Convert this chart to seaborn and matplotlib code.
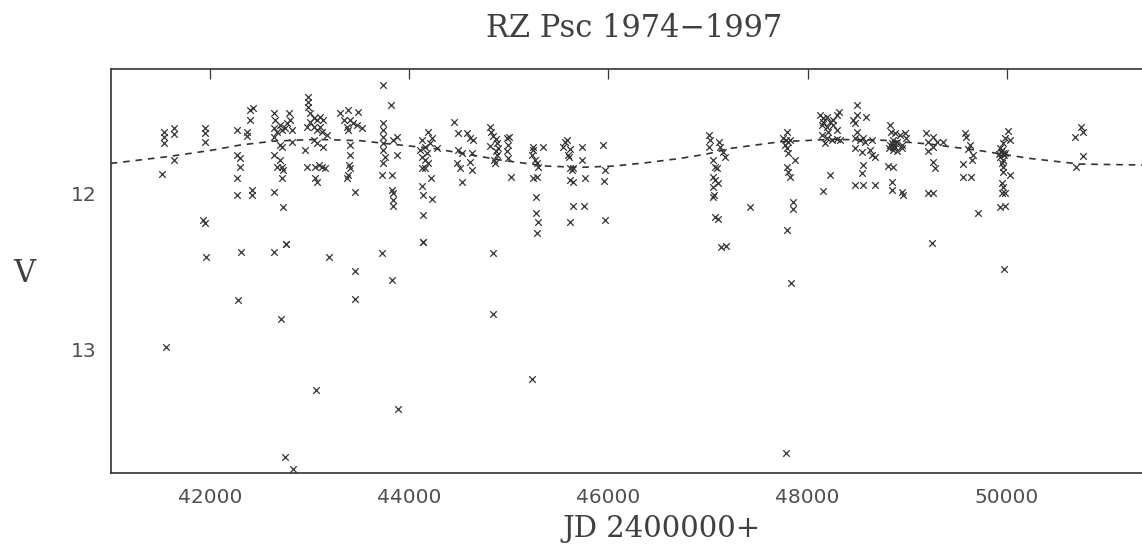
import matplotlib
matplotlib.use("Agg")
import matplotlib.pyplot as plt
import seaborn as sns
import pandas as pd

jd = [
    41531, 41531, 41531, 41639, 41639, 41515, 41639,
    41943, 41943, 41943, 41926, 41950,
    42268, 42368, 42368, 42402, 42428, 42402, 42268, 42301, 42301, 42268, 42268, 42418, 42418,
    42636, 42653, 42636, 42669, 42636, 42703, 42720, 42753, 42787, 42803, 42820, 42770,
    42720, 42703, 42636, 42669, 42703, 42720, 42736, 42720, 42636, 42736, 42763, 42820,
    42987, 42987, 42987, 43004, 43038, 43071, 43104, 43138, 42971, 43038, 43104, 43171,
    43038, 43071, 42954, 43138, 42971, 43054, 43088, 43121, 43155, 43054, 43071,
    43004, 43071, 43121,
    43305, 43389, 43489, 43339, 43406, 43439, 43372, 43473, 43523, 43389,
    43406, 43406, 43399, 43406, 43389, 43372, 43456,
    43740, 43817, 43740, 43740, 43740, 43740, 43740, 43757, 43740, 43724, 43824,
    43841, 43874, 43874, 43824, 43841, 43834, 43834,
    44192, 44125, 44159, 44209, 44276, 44125, 44159, 44192, 44125, 44159, 44216,
    44132, 44135, 44226, 44135, 44135, 44108, 44176, 44226,
    44453, 44487, 44577, 44611, 44644, 44493, 44527, 44627, 44477, 44510, 44611, 44627, 44527,
    44811, 44818, 44845, 44872, 44878, 44811, 44895, 44872, 44878, 44852, 44862,
    44979, 45006, 44995, 44985, 44995, 45019,
    45240, 45247, 45230, 45263, 45280, 45297, 45347, 45247, 45280, 45273, 45273, 45297, 45280,
    45564, 45588, 45548, 45615, 45598, 45608, 45732, 45732, 45615, 45648, 45631, 45615,
    45648, 45765, 45641, 45759, 45615,
    45949, 45966, 45956, 45969,
    47014, 47020, 47014, 47114, 47121, 47154, 47171, 47054, 47071, 47087, 47054, 47071,
    47104, 47054, 47061, 47054, 47071, 47104, 47128, 47181, 47422,
    47790, 47757, 47783, 47807, 47824, 47773, 47790, 47807, 47874, 47797, 47807, 47824,
    47857, 47857, 47790,
    48125, 48158, 48192, 48225, 48259, 48292, 48319, 48141, 48192, 48259, 48292, 48141,
    48192, 48242, 48292, 48326, 48175, 48225, 48158, 48208, 48158,
    48493, 48493, 48459, 48476, 48587, 48493, 48476, 48526, 48560, 48644, 48577, 48476,
    48543, 48627, 48644, 48677, 48553, 48543, 48476, 48553, 48677,
    48828, 48834, 48878, 48928, 48978, 48988, 48861, 48895, 48828, 48878, 48821, 48861,
    48945, 48945, 48895, 48811, 48861, 48844, 48844, 48945, 48962, 48844, 48878, 48854,
    49246,
    49189, 49263, 49212, 49296, 49363, 49263, 49212, 49263, 49280, 49212, 49263,
    49581, 49597, 49631, 49614, 49660, 49650, 49557, 49557, 49638, 49715,
    50016, 49982, 50033, 49966, 49932, 49949, 49959, 49982, 49932, 49966, 49949, 49959,
    49966, 50039, 49949, 49966, 49949, 49982, 49932, 49982, 49939, 49972, 49926,
    50752, 50769, 50685, 50769, 50702,
    42763, 44135,
    41962, 42305, 42645, 43191, 43725, 44840, 43458, 43828, 42275, 43458, 44844, 42714,
    41557, 43061, 45233, 43889, 42752, 42828,
    47834, 49971, 47779,
]
mag = [
    11.605, 11.637, 11.679, 11.584, 11.620, 11.878, 11.786,
    11.584, 11.611, 11.669, 12.171, 12.192,
    11.594, 11.605, 11.632, 11.466, 11.455, 11.530, 11.754, 11.776, 11.829, 11.904, 12.011, 11.979, 12.011,
    11.487, 11.530, 11.584, 11.605, 11.637, 11.562, 11.594, 11.584, 11.487, 11.530, 11.594, 11.551,
    11.701, 11.690, 11.754, 11.829, 11.786, 11.829, 11.850, 11.904, 11.989, 12.085, 12.325, 11.669,
    11.380, 11.412, 11.444, 11.487, 11.519, 11.530, 11.509, 11.530, 11.573, 11.573, 11.573, 11.626,
    11.658, 11.679, 11.722, 11.701, 11.829, 11.829, 11.818, 11.829, 11.840, 11.904, 11.925,
    11.541, 11.594, 11.605,
    11.487, 11.466, 11.476, 11.530, 11.530, 11.551, 11.573, 11.562, 11.584, 11.594,
    11.690, 11.754, 11.818, 11.840, 11.882, 11.904, 11.989,
    11.306, 11.434, 11.551, 11.594, 11.637, 11.679, 11.722, 11.765, 11.808, 11.882, 11.882,
    11.658, 11.637, 11.754, 11.979, 12.000, 12.043, 12.081,
    11.605, 11.658, 11.701, 11.679, 11.712, 11.765, 11.786, 11.808, 11.840, 11.840, 11.904,
    11.953, 12.011, 12.038, 12.139, 12.310, 11.722, 11.744, 11.647,
    11.541, 11.611, 11.615, 11.647, 11.658, 11.722, 11.744, 11.744, 11.808, 11.840, 11.797, 11.850, 11.925,
    11.573, 11.605, 11.632, 11.654, 11.679, 11.697, 11.712, 11.726, 11.754, 11.786, 11.808,
    11.647, 11.641, 11.690, 11.726, 11.776, 11.893,
    11.701, 11.722, 11.754, 11.786, 11.808, 11.829, 11.705, 11.904, 11.897, 12.021, 12.124, 12.182, 12.256,
    11.669, 11.658, 11.701, 11.718, 11.754, 11.765, 11.705, 11.786, 11.840, 11.840, 11.850, 11.915,
    11.925, 11.904, 12.081, 12.081, 12.182,
    11.690, 11.850, 11.919, 12.171,
    11.626, 11.658, 11.705, 11.669, 11.705, 11.733, 11.765, 11.786, 11.829, 11.840, 11.893, 11.915,
    11.936, 11.957, 12.011, 12.026, 12.150, 12.167, 12.346, 12.338, 12.085,
    11.605, 11.647, 11.658, 11.669, 11.658, 11.690, 11.712, 11.744, 11.786, 11.829, 11.861, 11.893,
    12.053, 12.103, 12.235,
    11.498, 11.519, 11.509, 11.541, 11.530, 11.498, 11.476, 11.562, 11.573, 11.562, 11.594, 11.626,
    11.647, 11.658, 11.654, 11.658, 11.679, 11.882, 11.983, 11.605, 11.541,
    11.434, 11.498, 11.530, 11.551, 11.509, 11.605, 11.647, 11.658, 11.647, 11.658, 11.669, 11.712,
    11.733, 11.722, 11.754, 11.765, 11.818, 11.872, 11.947, 11.947, 11.947,
    11.562, 11.605, 11.615, 11.626, 11.615, 11.647, 11.658, 11.669, 11.690, 11.701, 11.712, 11.722,
    11.690, 11.712, 11.726, 11.825, 11.829, 11.925, 11.979, 11.989, 12.011, 11.679, 11.679, 11.705,
    12.321,
    11.615, 11.637, 11.669, 11.669, 11.669, 11.701, 11.726, 11.797, 11.840, 12.000, 12.000,
    11.615, 11.641, 11.690, 11.718, 11.754, 11.786, 11.812, 11.893, 11.893, 12.128,
    11.598, 11.647, 11.658, 11.679, 11.712, 11.722, 11.744, 11.744, 11.765, 11.786, 11.808, 11.833,
    11.861, 11.882, 11.936, 11.957, 12.000, 12.000, 12.085, 12.081, 11.733, 11.754, 11.748,
    11.573, 11.605, 11.641, 11.761, 11.833,
    12.325, 12.310,
    12.406, 12.374, 12.374, 12.406, 12.380, 12.380, 12.496, 12.556, 12.684, 12.675, 12.774, 12.806,
    12.983, 13.261, 13.190, 13.383, 13.688, 13.767,
    12.573, 12.487, 13.662,
]

# Dashed fitted curve
curve_jd = [41000, 41565, 42000, 42301, 42636, 43071, 43506, 43740, 44242, 44577, 44912,
            45380, 45715, 46050, 46385, 46719, 46987, 47221, 47723, 48225, 48727, 49229,
            49731, 50233, 50735, 51360]
curve_mag = [11.808, 11.765, 11.725, 11.690, 11.665, 11.654, 11.662, 11.679, 11.712, 11.748,
             11.786, 11.825, 11.833, 11.825, 11.803, 11.776, 11.748, 11.712, 11.669, 11.654,
             11.658, 11.684, 11.726, 11.776, 11.812, 11.818]

df = pd.DataFrame({"jd": jd, "mag": mag})
curve = pd.DataFrame({"jd": curve_jd, "mag": curve_mag})

sns.set_style("white")
plt.rcParams["font.family"] = ["DejaVu Sans"]

fig = plt.figure(figsize=(11.42, 5.46), dpi=100)
ax = fig.add_axes([0.0969, 0.1342, 0.9031, 0.7388])

sns.lineplot(x="jd", y="mag", data=curve, ax=ax, color="#333333", linewidth=1.2,
             linestyle=(0, (4, 3.5)), sort=False)
sns.scatterplot(x="jd", y="mag", data=df, ax=ax, marker="x", s=22, color="#333333",
                linewidth=0.9)

ax.set_xlim(41000, 51360)
ax.set_ylim(13.79, 11.205)
ax.set_xticks([42000, 44000, 46000, 48000, 50000])
ax.set_yticks([12, 13])
ax.set_xlabel("")
ax.set_ylabel("")
ax.tick_params(axis="x", direction="in", length=7, width=0.9, pad=11, top=True,
               labelsize=14.5, labelcolor="#505050", color="#333333")
ax.tick_params(axis="y", direction="in", length=7, width=0.9, pad=10,
               labelsize=14.5, labelcolor="#505050", color="#333333")
for side in ["left", "top", "bottom"]:
    ax.spines[side].set_linewidth(1.2)
    ax.spines[side].set_color("#333333")
ax.spines["right"].set_visible(False)

serif = "DejaVu Serif"
fig.text(634 / 1142, 1 - 37 / 546, "RZ Psc 1974\u22121997", family=serif,
         fontsize=22, color="#404040", ha="center", va="baseline")
fig.text(662 / 1142, 1 - 537 / 546, "JD 2400000+", family=serif,
         fontsize=21, color="#404040", ha="center", va="baseline")
fig.text(24 / 1142, 1 - 274 / 546, "V", family=serif,
         fontsize=22, color="#404040", ha="center", va="center")

fig.savefig("out.png", dpi=100, facecolor="white")
